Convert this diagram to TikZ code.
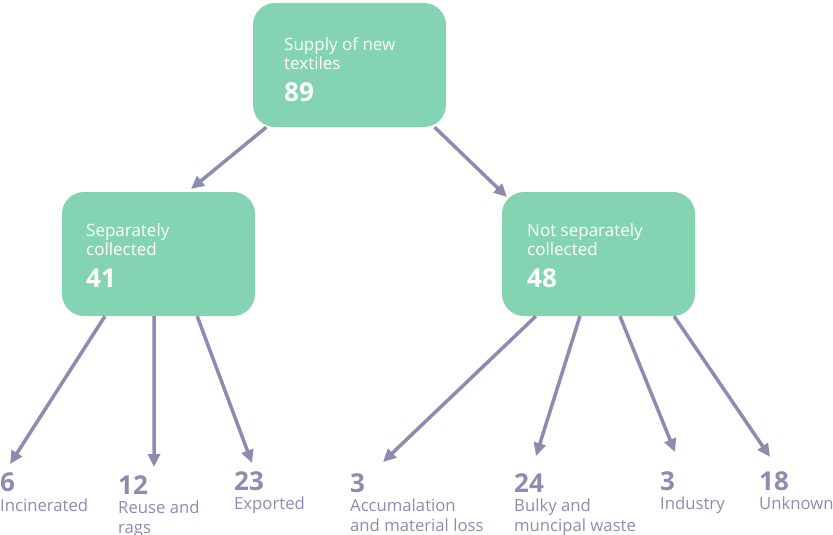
\documentclass[tikz,border=0pt]{standalone}
\usepackage{fontspec}
\setmainfont{Open Sans}
\usepackage{xcolor}
\usetikzlibrary{arrows.meta,calc}
\definecolor{boxgreen}{HTML}{84D4B4}
\definecolor{flowgrey}{HTML}{8E8BB0}
\newcommand{\amount}[1]{{\fontsize{26}{28}\selectfont\bfseries #1}}

\begin{document}
\begin{tikzpicture}[x=1pt,y=-1pt]
	\tikzstyle{stock}=[fill=boxgreen, rounded corners=22pt, minimum width=193pt, minimum height=124pt, inner sep=0pt]
	\tikzstyle{stocktxt}=[text=white, anchor=north west, inner sep=0pt, align=left, font=\fontsize{17}{19}\selectfont]
	\tikzstyle{sink}=[text=flowgrey, anchor=north west, inner sep=0pt, align=left, font=\fontsize{16.7}{19.5}\selectfont]
	\tikzstyle{flow}=[draw=flowgrey, line width=3.5pt, -{Triangle[length=13pt,width=12pt]}]

	\useasboundingbox (0,0) rectangle (833,535);

    \draw node[stock] at (349.5,65) (supply) {};
    \draw node[stock] at (158.5,254) (sep) {};
    \draw node[stock] at (598.5,254) (notsep) {};

    \draw node[stocktxt] at (284,37) (supplytxt) {Supply of new\\textiles\\[13pt]\amount{89}};
    \draw node[stocktxt] at (86,223) (septxt) {Separately\\collected\\[13pt]\amount{41}};
    \draw node[stocktxt] at (527,223) (notseptxt) {Not separately\\collected\\[13pt]\amount{48}};

	\draw node[sink] at (0,473) (inc) {\amount{6}\\Incinerated};
	\draw node[sink] at (118,475) (reuse) {\amount{12}\\Reuse and\\rags};
	\draw node[sink] at (234,471) (exp) {\amount{23}\\Exported};
	\draw node[sink] at (350,473) (acc) {\amount{3}\\Accumalation\\and material loss};
	\draw node[sink] at (514,473) (bulky) {\amount{24}\\Bulky and\\muncipal waste};
	\draw node[sink] at (660,471) (ind) {\amount{3}\\Industry};
	\draw node[sink] at (759,471) (unk) {\amount{18}\\Unknown};

	\coordinate (sepin) at (191,189);
	\coordinate (notsepin) at (507,197);
	\coordinate (incin) at (10,464);
	\coordinate (reusein) at (154,467);
	\coordinate (expin) at (252,463);
	\coordinate (accin) at (383,462);
	\coordinate (bulkyin) at (536,456);
	\coordinate (indin) at (675,452);
	\coordinate (unkin) at (770,457);

	\draw[flow] ($(supply.south west)!0.07!(supply.south east)$) -- (sepin);
	\draw[flow] ($(supply.south west)!0.94!(supply.south east)$) -- (notsepin);

	\draw[flow] ($(sep.south west)!0.223!(sep.south east)$) -- (incin);
	\draw[flow] ($(sep.south west)!0.477!(sep.south east)$) -- (reusein);
	\draw[flow] ($(sep.south west)!0.70!(sep.south east)$) -- (expin);

	\draw[flow] ($(notsep.south west)!0.176!(notsep.south east)$) -- (accin);
	\draw[flow] ($(notsep.south west)!0.404!(notsep.south east)$) -- (bulkyin);
	\draw[flow] ($(notsep.south west)!0.611!(notsep.south east)$) -- (indin);
	\draw[flow] ($(notsep.south west)!0.891!(notsep.south east)$) -- (unkin);
\end{tikzpicture}
\end{document}
